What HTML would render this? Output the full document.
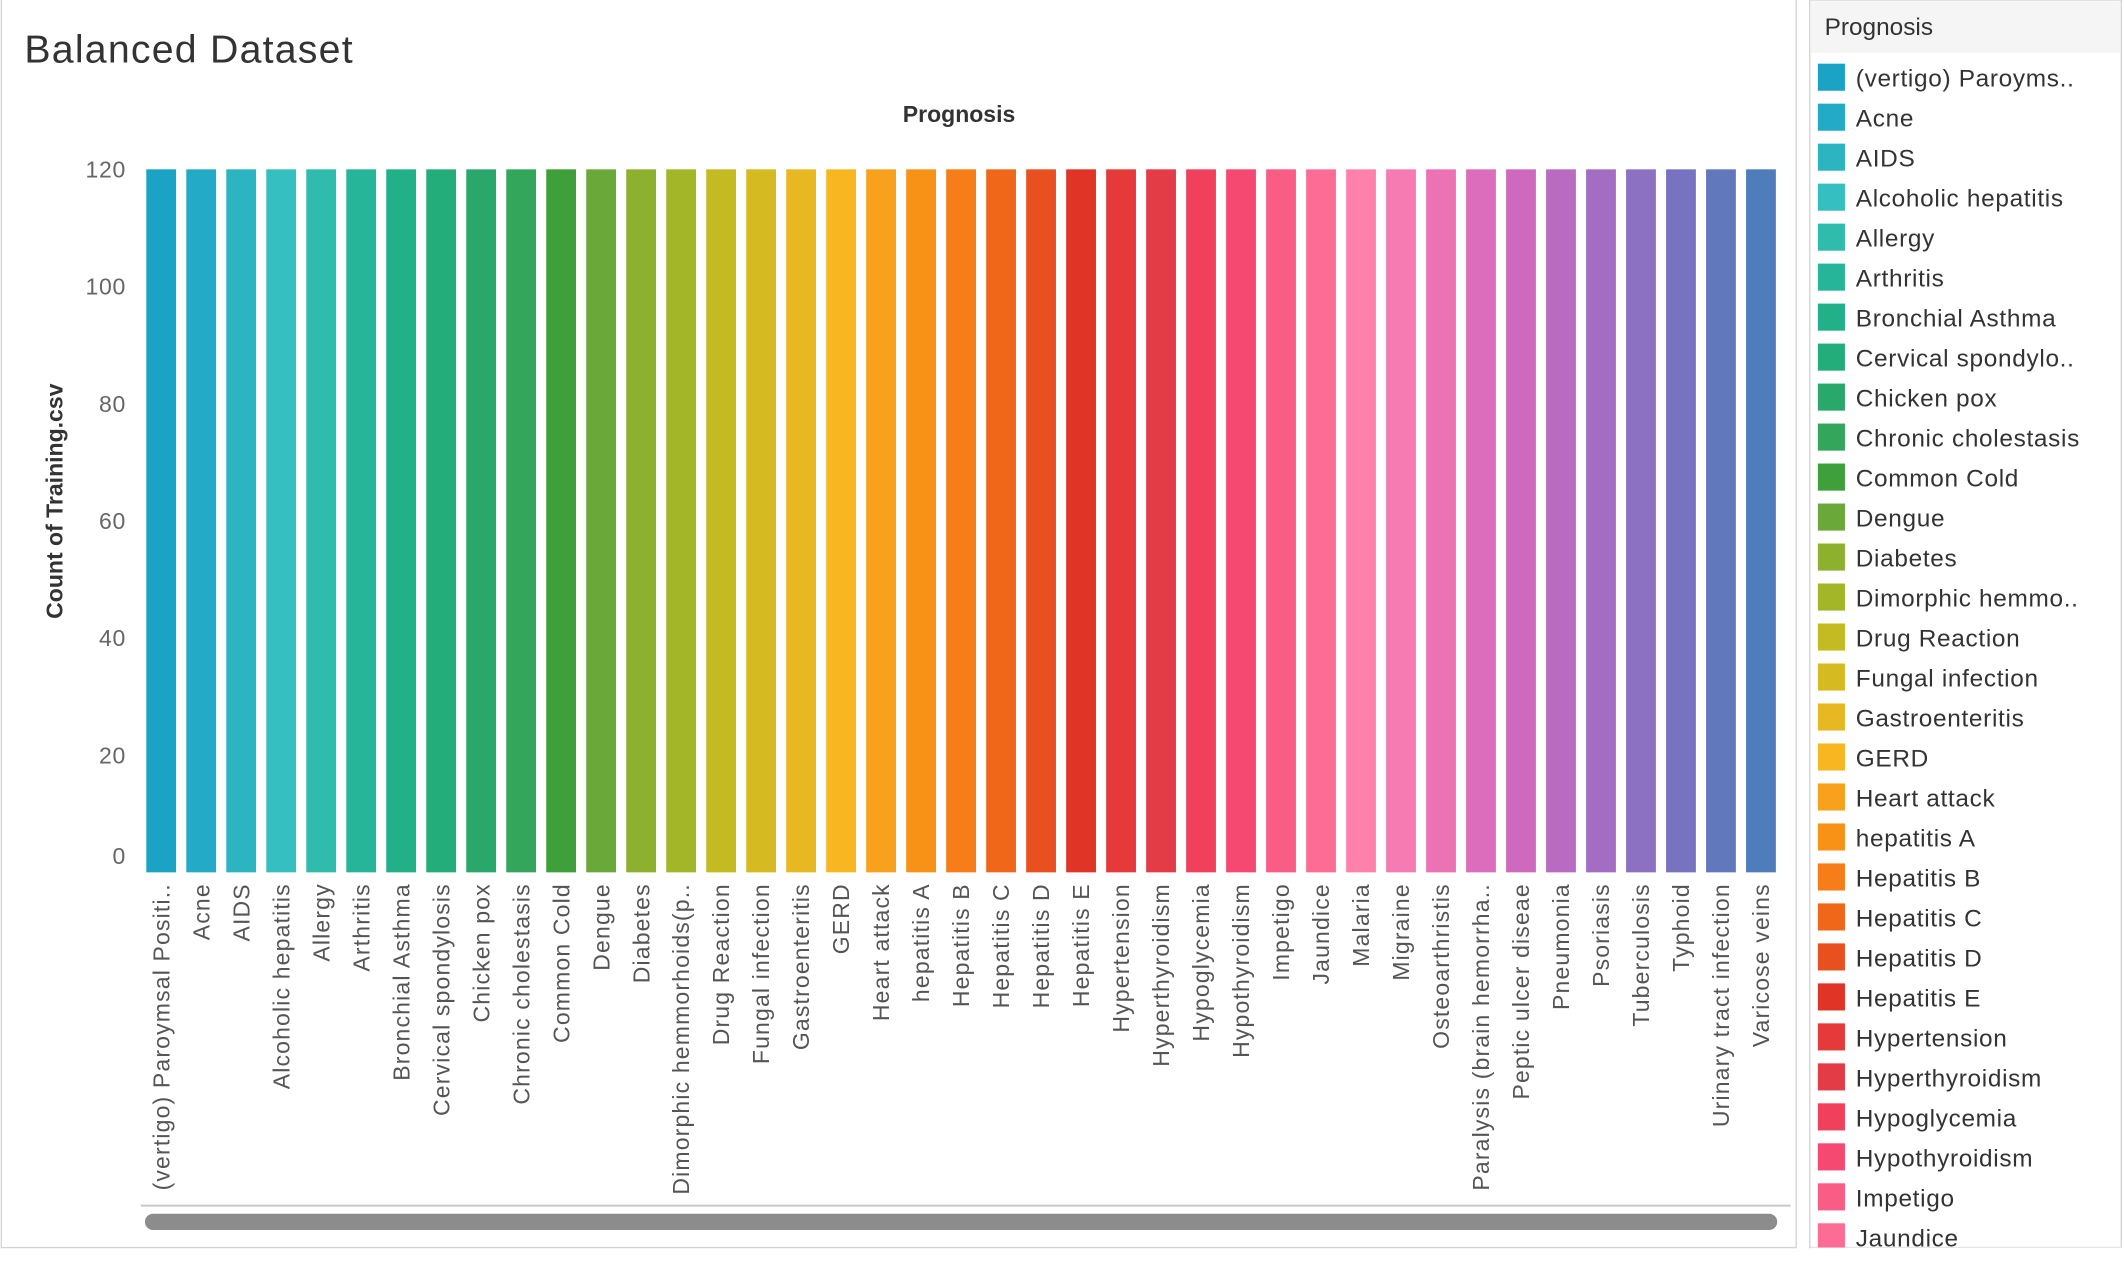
<!DOCTYPE html>
<html><head><meta charset="utf-8"><style>
html,body{margin:0;padding:0;background:#fff;overflow:hidden;width:2124px;height:1256px}
#wrap{position:absolute;left:0;top:0;width:1568px;height:927px;transform:scale(1.35459);transform-origin:0 0;font-family:"Liberation Sans","DejaVu Sans",sans-serif}
</style></head><body>
<div id="wrap">
<svg id="chart" width="1568" height="927">
<rect x="1" y="-1" width="1325" height="922" fill="#fff" stroke="#d4d4d4"/>
<rect x="1336" y="0" width="230" height="921" fill="#fff" stroke="#d4d4d4"/>
<rect x="1337" y="1" width="228" height="38" fill="#f5f5f5"/>
<text x="18" y="46" font-size="29" fill="#333" letter-spacing="0.9">Balanced Dataset</text>
<text x="708" y="90" font-size="17" font-weight="bold" fill="#333" text-anchor="middle">Prognosis</text>
<text transform="translate(46,370) rotate(-90)" font-size="17" font-weight="bold" fill="#333" text-anchor="middle">Count of Training.csv</text>
<text x="1347" y="26" font-size="18" fill="#333">Prognosis</text>
<line x1="104" y1="890" x2="1322" y2="890" stroke="#c8c8c8" stroke-width="1.5"/>
<rect x="107" y="896" width="1205" height="12" rx="6" fill="#8c8c8c"/>
<g id="bars"></g><g id="yticks"></g><g id="xlabels"></g><g id="legend"></g>
</svg>
</div>
<script>
const categories=["(vertigo) Paroymsal Positi..","Acne","AIDS","Alcoholic hepatitis","Allergy","Arthritis","Bronchial Asthma","Cervical spondylosis","Chicken pox","Chronic cholestasis","Common Cold","Dengue","Diabetes","Dimorphic hemmorhoids(p..","Drug Reaction","Fungal infection","Gastroenteritis","GERD","Heart attack","hepatitis A","Hepatitis B","Hepatitis C","Hepatitis D","Hepatitis E","Hypertension","Hyperthyroidism","Hypoglycemia","Hypothyroidism","Impetigo","Jaundice","Malaria","Migraine","Osteoarthristis","Paralysis (brain hemorrha..","Peptic ulcer diseae","Pneumonia","Psoriasis","Tuberculosis","Typhoid","Urinary tract infection","Varicose veins"];
const legendLabels=["(vertigo) Paroyms..","Acne","AIDS","Alcoholic hepatitis","Allergy","Arthritis","Bronchial Asthma","Cervical spondylo..","Chicken pox","Chronic cholestasis","Common Cold","Dengue","Diabetes","Dimorphic hemmo..","Drug Reaction","Fungal infection","Gastroenteritis","GERD","Heart attack","hepatitis A","Hepatitis B","Hepatitis C","Hepatitis D","Hepatitis E","Hypertension","Hyperthyroidism","Hypoglycemia","Hypothyroidism","Impetigo","Jaundice"];
const counts=[120,120,120,120,120,120,120,120,120,120,120,120,120,120,120,120,120,120,120,120,120,120,120,120,120,120,120,120,120,120,120,120,120,120,120,120,120,120,120,120,120];
const yTicks=[0,20,40,60,80,100,120];
const colors=["#1ba3c6","#22aac6","#2cb5c0","#35bfc0","#30bcad","#27b59a","#21b087","#22ad7b","#2aa86c","#33a65c","#3f9f3a","#6aa83a","#8db12e","#a2b627","#c4bb22","#d5bb21","#e8b822","#f8b620","#f8a11c","#f89217","#f67d18","#f06719","#e8501f","#e03426","#e5393a","#e33c47","#f0405b","#f64971","#f95c84","#fc6c94","#fd81aa","#f67bb3","#eb73b3","#dc6dbc","#ce69be","#b86bc0","#a26dc2","#8c70c1","#7873c0","#6178bd","#4f7cba"];
const NS="http://www.w3.org/2000/svg";
const y0=644,y120=125,yMax=120;
const yScale=v=>y0-(v/yMax)*(y0-y120);
const x0=108,step=29.525,bw=22;
const xScale=i=>x0+i*step;
function mk(t,a,p){const e=document.createElementNS(NS,t);for(const k in a)e.setAttribute(k,a[k]);p.appendChild(e);return e;}
const gb=document.getElementById('bars'),gy=document.getElementById('yticks'),gx=document.getElementById('xlabels'),gl=document.getElementById('legend');
counts.forEach((v,i)=>{
  const r=mk('rect',{x:xScale(i),y:yScale(v),width:bw,height:y0-yScale(v),fill:colors[i]},gb);
  
  
  const cx=xScale(i)+bw/2+6;
  const t=mk('text',{transform:`translate(${cx},652) rotate(-90)`,'font-size':17,fill:'#555','text-anchor':'end','letter-spacing':0.85},gx);
  t.textContent=categories[i];
  
  
});
yTicks.forEach(v=>{
  let y=yScale(v)+6; if(v===0)y-=12;
  const t=mk('text',{x:93,y:y,'font-size':17,fill:'#666','text-anchor':'end','letter-spacing':0.5},gy);
  t.textContent=v;
  
  
});
legendLabels.forEach((l,i)=>{
  const y=47+i*29.52;
  if(y>918)return;
  const s=mk('rect',{x:1342,y:y,width:20,height:20,fill:colors[i]},gl);
  
  
  const t=mk('text',{x:1370,y:y+17,'font-size':18,fill:'#333','letter-spacing':0.5},gl);
  t.textContent=l;
  
  
});
mk('rect',{x:1337,y:921,width:229,height:10,fill:'#fff'},gl);
</script>
</body></html>
